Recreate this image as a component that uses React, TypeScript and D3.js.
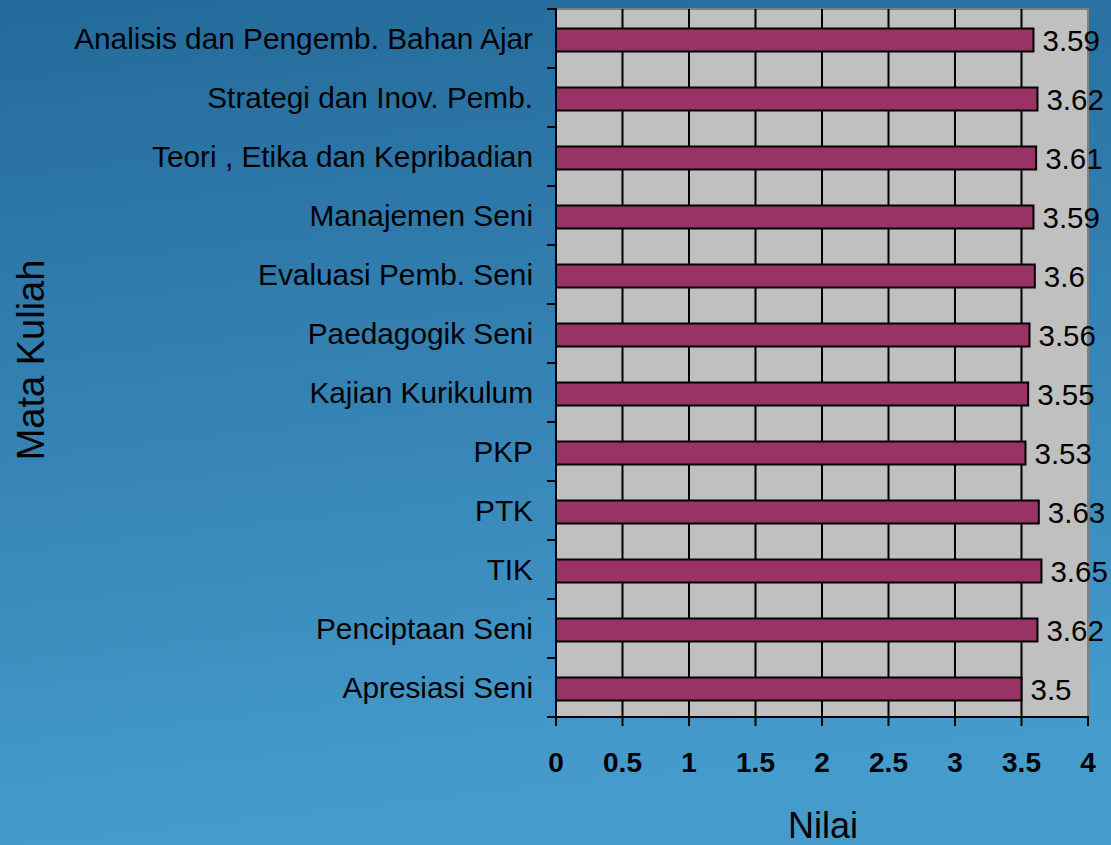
import React from "react";
import * as d3 from "d3";

const categories = [
  "Analisis dan Pengemb. Bahan Ajar",
  "Strategi dan Inov. Pemb.",
  "Teori , Etika dan Kepribadian",
  "Manajemen Seni",
  "Evaluasi Pemb. Seni",
  "Paedagogik Seni",
  "Kajian Kurikulum",
  "PKP",
  "PTK",
  "TIK",
  "Penciptaan Seni",
  "Apresiasi Seni",
];
const values = [3.59, 3.62, 3.61, 3.59, 3.6, 3.56, 3.55, 3.53, 3.63, 3.65, 3.62, 3.5];
const valueLabels = ["3.59", "3.62", "3.61", "3.59", "3.6", "3.56", "3.55", "3.53", "3.63", "3.65", "3.62", "3.5"];
const xTicks = [0, 0.5, 1, 1.5, 2, 2.5, 3, 3.5, 4];
const xTickLabels = ["0", "0.5", "1", "1.5", "2", "2.5", "3", "3.5", "4"];
const xTitle = "Nilai";
const yTitle = "Mata Kuliah";

const W = 1111;
const H = 845;
const left = 556;
const right = 1088;
const top = 9;
const bottom = 717;
const FONT = "'Liberation Sans', Arial, sans-serif";

export default function App() {
  const x = d3.scaleLinear().domain([0, 4]).range([left, right]);
  const y = d3.scaleBand<string>().domain(categories).range([top, bottom]).padding(0);
  const bw = y.bandwidth();
  const barH = 23;
  const boundaries = d3.range(categories.length + 1).map((i) => top + i * bw);

  return (
    <svg
      width={W}
      height={H}
      style={{ position: "absolute", left: 0, top: 0, display: "block" }}
      fontFamily={FONT}
    >
      <defs>
        <linearGradient id="bg" x1="0" y1="0" x2="0.15" y2="1">
          <stop offset="0" stopColor="#236a9a" />
          <stop offset="1" stopColor="#469bcd" />
        </linearGradient>
      </defs>
      <rect x={0} y={0} width={W} height={H} fill="url(#bg)" />

      {/* plot area */}
      <rect
        x={left}
        y={top}
        width={right - left}
        height={bottom - top}
        fill="#c0c0c0"
        stroke="#808080"
        strokeWidth={2}
      />

      {/* vertical gridlines */}
      {xTicks.slice(1, -1).map((t) => (
        <line key={"g" + t} x1={x(t)} x2={x(t)} y1={top} y2={bottom} stroke="#000" strokeWidth={2} />
      ))}

      {/* bars */}
      {categories.map((c, i) => {
        const cy = (y(c) as number) + bw / 2;
        return (
          <rect
            key={"b" + c}
            x={x(0)}
            y={cy - barH / 2 + 1.5}
            width={x(values[i]) - x(0)}
            height={barH}
            fill="#993366"
            stroke="#000"
            strokeWidth={2}
          />
        );
      })}

      {/* value labels */}
      {categories.map((c, i) => {
        const cy = (y(c) as number) + bw / 2;
        return (
          <text
            key={"v" + c}
            x={x(values[i]) + 9}
            y={cy + 2}
            dy="0.35em"
            fontSize={29.5}
            fill="#000"
          >
            {valueLabels[i]}
          </text>
        );
      })}

      {/* axes */}
      <line x1={left} x2={left} y1={top - 1} y2={bottom + 1} stroke="#000" strokeWidth={2} />
      <line x1={left - 1} x2={right + 1} y1={bottom} y2={bottom} stroke="#000" strokeWidth={2} />
      {boundaries.map((b, i) => (
        <line key={"yt" + i} x1={left - 9} x2={left} y1={b} y2={b} stroke="#000" strokeWidth={2} />
      ))}
      {xTicks.map((t) => (
        <line key={"xt" + t} x1={x(t)} x2={x(t)} y1={bottom} y2={bottom + 9} stroke="#000" strokeWidth={2} />
      ))}

      {/* x tick labels */}
      {xTicks.map((t, i) => (
        <text
          key={"xl" + t}
          x={x(t)}
          y={772}
          textAnchor="middle"
          fontSize={28}
          fontWeight="bold"
          fill="#000"
        >
          {xTickLabels[i]}
        </text>
      ))}

      {/* y labels */}
      {categories.map((c) => {
        const cy = (y(c) as number) + bw / 2;
        return (
          <text key={"yl" + c} x={533} y={cy} dy="0.35em" textAnchor="end" fontSize={29.8} fill="#000">
            {c}
          </text>
        );
      })}

      {/* titles */}
      <text x={823} y={838} textAnchor="middle" fontSize={36} fill="#000">
        {xTitle}
      </text>
      <text
        transform={`translate(44, 360) rotate(-90)`}
        textAnchor="middle"
        fontSize={38}
        fill="#000"
      >
        {yTitle}
      </text>
    </svg>
  );
}
